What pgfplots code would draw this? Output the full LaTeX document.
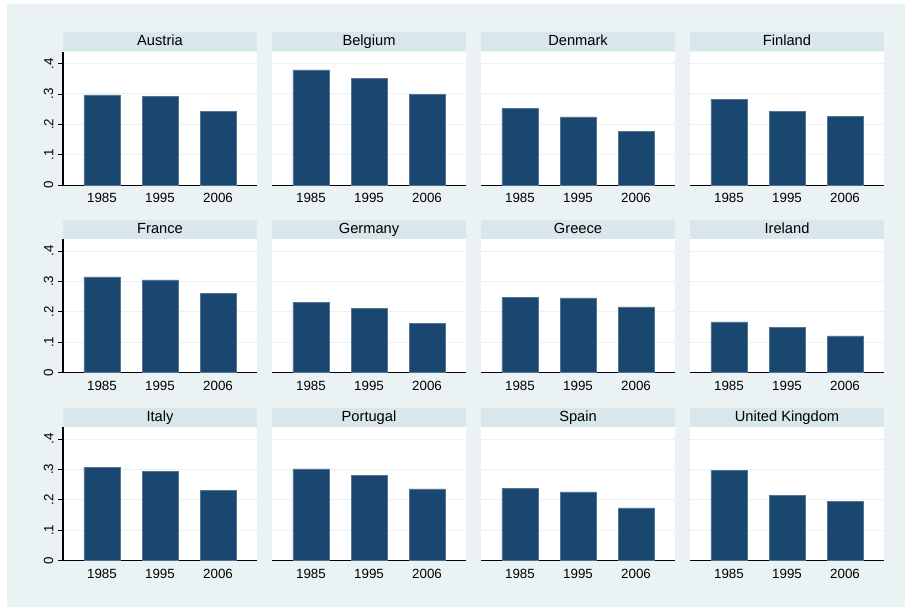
\documentclass[border=0pt]{standalone}
\usepackage{pgfplots}
\pgfplotsset{compat=1.18}
\usepackage{fontspec}
\setmainfont{Liberation Sans}

\definecolor{bgc}{RGB}{234,242,243}
\definecolor{stripc}{RGB}{217,230,235}
\definecolor{barc}{RGB}{26,71,111}
\definecolor{gridc}{RGB}{234,242,243}

\pgfplotsset{
  layers/barsfirst/.define layer set={axis background,axis grid,main,axis ticks,axis lines,axis tick labels,axis descriptions,axis foreground}{},
  panel/.style={
    set layers=barsfirst,
    scale only axis,
    width=145.5pt, height=100.2pt,
    anchor=south west,
    axis background/.style={fill=white},
    xmin=0.328, xmax=3.672,
    ymin=0, ymax=0.439,
    axis x line*=bottom, axis y line*=left,
    x axis line style={black, line width=0.9pt, -},
    y axis line style={black, line width=0.9pt, -},
    xtick={1,2,3}, xticklabels={1985,1995,2006},
    major x tick style={draw=none},
    ytick={0,0.1,0.2,0.3,0.4},
    yticklabels={0,.1,.2,.3,.4},
    ymajorgrids, grid style={gridc, line width=0.75pt},
    tick align=outside, major tick length=3.75pt,
    major y tick style={black, line width=0.6pt},
    tick label style={font=\fontsize{10}{12}\selectfont},
    /pgf/number format/assume math mode=true,
    yticklabel style={rotate=90, anchor=south},
    xticklabel style={yshift=1pt},
    every axis title shift=0pt,
    title style={at={(0.5,1)}, anchor=south, fill=stripc, inner sep=0pt,
      minimum width=145.5pt, minimum height=14.5pt, yshift=0pt,
      text height=8pt, text depth=2.2pt,
      font=\fontsize{11}{13}\selectfont},
    ybar, bar width=27pt,
  },
  inner/.style={
    y axis line style={draw=none},
    major y tick style={draw=none},
    yticklabels={},
  },
  bars/.style={fill=barc, draw=barc!75!white, line width=0.4pt},
}

\begin{document}
\begin{tikzpicture}
\path (0,0) rectangle (678.75pt,455.25pt);
\fill[bgc] (5.25pt,0pt) rectangle (678.75pt,452.25pt);

% row 1
\begin{axis}[panel, at={(47.25pt,316.3pt)}, title={Austria}]
\addplot[bars] coordinates {(1,0.297) (2,0.291) (3,0.242)};
\end{axis}
\begin{axis}[panel, inner, at={(204pt,316.3pt)}, title={Belgium}]
\addplot[bars] coordinates {(1,0.379) (2,0.351) (3,0.298)};
\end{axis}
\begin{axis}[panel, inner, at={(360.75pt,316.3pt)}, title={Denmark}]
\addplot[bars] coordinates {(1,0.253) (2,0.225) (3,0.178)};
\end{axis}
\begin{axis}[panel, inner, at={(517.5pt,316.3pt)}, title={Finland}]
\addplot[bars] coordinates {(1,0.283) (2,0.242) (3,0.226)};
\end{axis}

% row 2
\begin{axis}[panel, at={(47.25pt,175.7pt)}, title={France}]
\addplot[bars] coordinates {(1,0.315) (2,0.305) (3,0.260)};
\end{axis}
\begin{axis}[panel, inner, at={(204pt,175.7pt)}, title={Germany}]
\addplot[bars] coordinates {(1,0.232) (2,0.212) (3,0.161)};
\end{axis}
\begin{axis}[panel, inner, at={(360.75pt,175.7pt)}, title={Greece}]
\addplot[bars] coordinates {(1,0.248) (2,0.246) (3,0.216)};
\end{axis}
\begin{axis}[panel, inner, at={(517.5pt,175.7pt)}, title={Ireland}]
\addplot[bars] coordinates {(1,0.167) (2,0.150) (3,0.121)};
\end{axis}

% row 3
\begin{axis}[panel, at={(47.25pt,34.7pt)}, title={Italy}]
\addplot[bars] coordinates {(1,0.306) (2,0.293) (3,0.231)};
\end{axis}
\begin{axis}[panel, inner, at={(204pt,34.7pt)}, title={Portugal}]
\addplot[bars] coordinates {(1,0.302) (2,0.280) (3,0.236)};
\end{axis}
\begin{axis}[panel, inner, at={(360.75pt,34.7pt)}, title={Spain}]
\addplot[bars] coordinates {(1,0.239) (2,0.226) (3,0.174)};
\end{axis}
\begin{axis}[panel, inner, at={(517.5pt,34.7pt)}, title={United Kingdom}]
\addplot[bars] coordinates {(1,0.296) (2,0.216) (3,0.195)};
\end{axis}
\end{tikzpicture}
\end{document}
